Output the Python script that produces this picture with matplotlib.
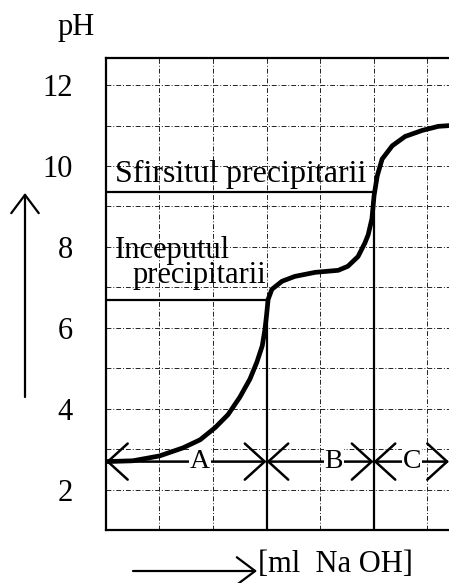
import matplotlib.pyplot as plt
from matplotlib.patches import ArrowStyle, FancyArrowPatch

plt.rcParams['font.family'] = ['Liberation Serif', 'DejaVu Serif']

# titration curve (ml NaOH, pH)
vol = [0.0, 0.5, 1.0, 1.44, 1.76, 2.04, 2.28, 2.5, 2.69, 2.82, 2.92, 2.97, 3.0,
       3.03, 3.1, 3.29, 3.53, 3.91, 4.34, 4.52, 4.71, 4.84, 4.9, 4.97, 5.01,
       5.07, 5.16, 5.35, 5.59, 5.91, 6.21, 6.43]
ph = [2.69, 2.71, 2.83, 3.03, 3.23, 3.53, 3.85, 4.28, 4.73, 5.15, 5.55, 5.95, 6.3,
      6.7, 6.95, 7.15, 7.27, 7.37, 7.42, 7.52, 7.76, 8.1, 8.3, 8.7, 9.27,
      9.76, 10.17, 10.5, 10.73, 10.88, 10.98, 11.0]

yticks = [2, 4, 6, 8, 10, 12]
ph_start = 6.68    # inceputul precipitarii
ph_end = 9.35      # sfirsitul precipitarii
v_start = 3.0
v_end = 5.0
zone_names = ['A', 'B', 'C']
zone_bounds = [0.0, 3.0, 5.0, 6.41]
zone_text_x = [1.76, 4.26, 5.72]
zone_ph = 2.69

fig = plt.figure(figsize=(4.49, 5.83), dpi=100)
ax = fig.add_axes([0.236, 0.091, 0.764, 0.8095])
ax.set_xlim(0, 6.41)
ax.set_ylim(1, 12.67)

# dash-dot grid
for gx in range(1, 7):
    ax.axvline(gx, color='#222222', lw=0.7, dashes=(5, 2, 1, 2), zorder=1)
for gy in range(2, 13):
    ax.axhline(gy, color='#222222', lw=0.7, dashes=(5, 2, 1, 2), zorder=1)

# level lines and volume lines
ax.plot([0, v_start], [ph_start, ph_start], color='black', lw=1.6, zorder=2)
ax.plot([0, v_end], [ph_end, ph_end], color='black', lw=1.6, zorder=2)
ax.plot([v_start, v_start], [1, ph_start], color='black', lw=1.6, zorder=2)
ax.plot([v_end, v_end], [1, ph_end], color='black', lw=1.6, zorder=2)

ax.plot(vol, ph, color='black', lw=3.4, solid_capstyle='round',
        solid_joinstyle='round', zorder=4)

# zone arrows A / B / C
style = ArrowStyle('<->', head_length=0.55, head_width=0.5)
for i, name in enumerate(zone_names):
    ax.annotate('', xy=(zone_bounds[i], zone_ph), xytext=(zone_bounds[i + 1], zone_ph),
                arrowprops=dict(arrowstyle=style, color='black', lw=1.8,
                                mutation_scale=26, shrinkA=0, shrinkB=0),
                zorder=3, annotation_clip=False)
    ax.text(zone_text_x[i], zone_ph, name, fontsize=20, ha='center', va='center',
            bbox=dict(facecolor='white', edgecolor='none', pad=0.5), zorder=5)

ax.text(0.17, 9.6, 'Sfirsitul precipitarii', fontsize=23, va='baseline', zorder=5)
ax.text(0.17, 7.72, 'Inceputul', fontsize=22, va='baseline', zorder=5)
ax.text(0.5, 7.1, 'precipitarii', fontsize=22, va='baseline', zorder=5)

ax.set_yticks(yticks)
ax.set_yticklabels([str(t) for t in yticks], fontsize=22)
ax.set_xticks([])
ax.tick_params(axis='y', length=0, pad=24)
for side in ['left', 'top', 'bottom']:
    ax.spines[side].set_linewidth(1.6)
ax.spines['right'].set_visible(False)

# labels and direction arrows outside the axes
fig.text(76 / 449, 1 - 28 / 583, 'pH', fontsize=22, ha='center', va='center')
fig.text(258 / 449, 1 - 565 / 583, '[ml  Na OH]', fontsize=22, ha='left', va='center')
arrow = dict(arrowstyle=ArrowStyle('->', head_length=0.6, head_width=0.45),
             color='black', lw=1.6, mutation_scale=22, shrinkA=0, shrinkB=0)
fig.add_artist(FancyArrowPatch((25 / 449, 1 - 397 / 583), (25 / 449, 1 - 193 / 583),
                               transform=fig.transFigure, **arrow))
fig.add_artist(FancyArrowPatch((133 / 449, 1 - 571 / 583), (257 / 449, 1 - 571 / 583),
                               transform=fig.transFigure, **arrow))

fig.savefig('out.png', dpi=100)
